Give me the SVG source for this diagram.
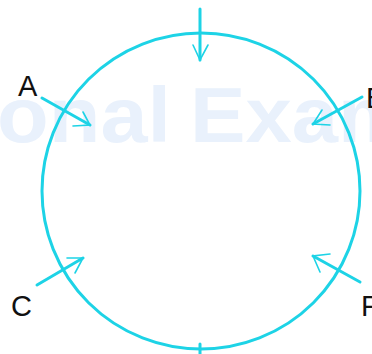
<svg xmlns="http://www.w3.org/2000/svg" width="372" height="354" viewBox="0 0 372 354">
<style>
.wm{font-family:"Liberation Sans",Arial,sans-serif;font-weight:bold;font-size:78px;fill:#e9f1fc}
.lbl{font-family:"Liberation Sans",Arial,sans-serif;font-size:29px;fill:#111}
.ring{fill:none;stroke:#1dd3e6;stroke-width:3}
.shaft{stroke:#1dd3e6;stroke-width:3;stroke-linecap:round;fill:none}
.head{stroke:#1dd3e6;stroke-width:1.6;stroke-linecap:round;fill:none}
</style>
<rect width="372" height="354" fill="#fff"/>
<g id="watermark">
<text class="wm" x="-3" y="142" textLength="174" lengthAdjust="spacingAndGlyphs">onal</text>
<text class="wm" x="190" y="142" textLength="222" lengthAdjust="spacingAndGlyphs">Exam</text>
</g>
<g id="circle">
<ellipse class="ring" cx="201" cy="191" rx="159" ry="158"/>
</g>
<g id="connectors">
<line class="shaft" x1="200" y1="9" x2="200" y2="60"/>
<polyline class="head" points="193,45 200,60 208,45"/>
<line class="shaft" x1="42" y1="98" x2="90" y2="125"/>
<polyline class="head" points="83,112 90,125 73,126"/>
<line class="shaft" x1="362" y1="97" x2="313" y2="124"/>
<polyline class="head" points="322,110 313,124 330,125"/>
<line class="shaft" x1="37" y1="285" x2="83" y2="258"/>
<polyline class="head" points="67,258 83,258 75,273"/>
<line class="shaft" x1="360" y1="282" x2="313" y2="256"/>
<polyline class="head" points="330,254 313,256 320,272"/>
<line class="shaft" x1="200" y1="344" x2="200" y2="354"/>
</g>
<g id="label-A"><text class="lbl" x="18" y="96">A</text></g>
<g id="label-B"><text class="lbl" x="366" y="108">B</text></g>
<g id="label-C"><text class="lbl" x="11" y="316">C</text></g>
<g id="label-P"><text class="lbl" x="361" y="316">P</text></g>
</svg>
